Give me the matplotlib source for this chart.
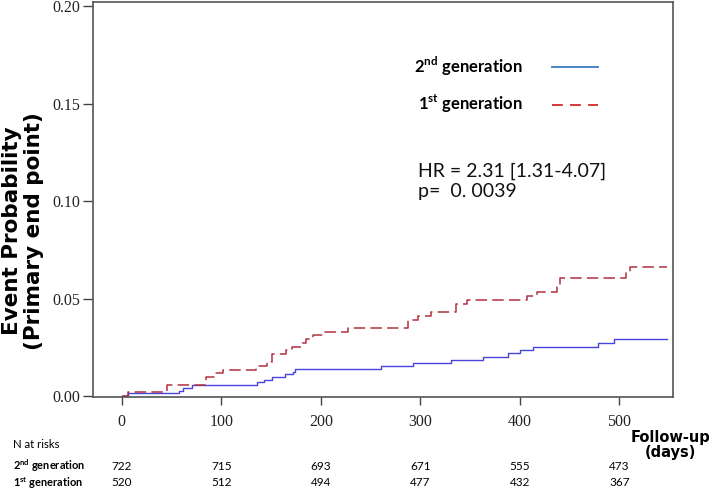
import matplotlib
matplotlib.use("Agg")
import matplotlib.pyplot as plt
from matplotlib.lines import Line2D
from matplotlib.transforms import blended_transform_factory

plt.rcParams["mathtext.fontset"] = "custom"
plt.rcParams["mathtext.rm"] = "Lato"
plt.rcParams["mathtext.bf"] = "Lato:bold"

# ---------------- data ----------------
gen2_days = [0, 6, 57, 61, 71, 136, 143, 151, 164, 172, 174, 260, 293, 331,
             363, 388, 400, 413, 479, 495, 548]
gen2_prob = [0, 0.0014, 0.0027, 0.0042, 0.0056, 0.0070, 0.0084, 0.0098, 0.0111,
             0.0125, 0.0140, 0.0154, 0.0168, 0.0185, 0.0202, 0.0219, 0.0236,
             0.0253, 0.0273, 0.0292, 0.0292]

gen1_days = [0, 6, 45, 85, 93, 102, 135, 146, 151, 165, 171, 180, 185, 192,
             203, 227, 288, 298, 311, 336, 347, 407, 417, 437, 440, 507, 511, 548]
gen1_prob = [0, 0.0019, 0.0058, 0.0097, 0.0116, 0.0135, 0.0155, 0.0173, 0.0213,
             0.0236, 0.0253, 0.0273, 0.0291, 0.0311, 0.0328, 0.0350, 0.0390,
             0.0410, 0.0432, 0.0470, 0.0491, 0.0514, 0.0535, 0.0561, 0.0604,
             0.0634, 0.0660, 0.0660]

risk_days = [0, 100, 200, 300, 400, 500]
risk_gen2 = [722, 715, 693, 671, 555, 473]
risk_gen1 = [520, 512, 494, 477, 432, 367]

x_ticks = [0, 100, 200, 300, 400, 500]
y_ticks = [0.00, 0.05, 0.10, 0.15, 0.20]

series_labels = [r"2$^{\mathbf{nd}}$ generation", r"1$^{\mathbf{st}}$ generation"]
hr_line = "HR = 2.31 [1.31-4.07]"
p_line = "p=  0. 0039"

# ---------------- figure ----------------
W, H = 709, 492
fig = plt.figure(figsize=(W / 100, H / 100), dpi=100)
ax = fig.add_axes([93 / W, 1 - 397 / H, (673 - 93) / W, (397 - 2) / H])

c_blue = "#4646dc"
c_red = "#b3303e"

ax.step(gen2_days, gen2_prob, where="post", color=c_blue, lw=1.0)
ax.step(gen1_days, gen1_prob, where="post", color=c_red, lw=1.1,
        dashes=(7.5, 3.4))

ax.set_xlim(-29, 554)
ax.set_ylim(-0.0005, 0.2021)

ax.set_xticks(x_ticks)
ax.set_yticks(y_ticks)
ax.set_yticklabels([f"{v:.2f}" for v in y_ticks])

serif = "Liberation Serif"
for lab in ax.get_xticklabels() + ax.get_yticklabels():
    lab.set_fontfamily(serif)
    lab.set_fontsize(11.5)
    lab.set_color("#222222")

ax.tick_params(axis="y", length=7.5, width=1.0, pad=1.5, colors="#444444",
               labelcolor="#222222")
ax.tick_params(axis="x", length=6, width=1.0, pad=6, colors="#444444",
               labelcolor="#222222")
for s in ax.spines.values():
    s.set_color("#555555")
    s.set_linewidth(1.2)

ax.set_ylabel("Event Probability\n(Primary end point)", fontsize=15.5,
              fontweight="bold", family="DejaVu Sans", labelpad=0,
              linespacing=1.08)
ax.yaxis.set_label_coords(-0.085, 0.42)

# legend
handles = [Line2D([], [], color="#3c7cc6", lw=1.3),
           Line2D([], [], color="#d22a2a", lw=1.3, dashes=(6.0, 4.0))]
leg = ax.legend(handles, series_labels, loc="upper left",
                bbox_to_anchor=(399 / W, 1 - 40 / H),
                bbox_transform=fig.transFigure, frameon=False,
                markerfirst=False, handlelength=2.8, handletextpad=1.75,
                labelspacing=0.9,
                prop={"family": "Lato", "weight": "bold", "size": 12})

# HR annotation
fig.text(418 / W, 1 - 171 / H, hr_line, fontsize=14, family="Lato",
         va="center", ha="left", color="#111111")
fig.text(418 / W, 1 - 191 / H, p_line, fontsize=14, family="Lato",
         va="center", ha="left", color="#111111")

# risk table
tr = blended_transform_factory(ax.transData, fig.transFigure)
fig.text(13 / W, 1 - 444 / H, "N at risks", fontsize=8.2, family="Lato",
         va="center", ha="left")
fig.text(13 / W, 1 - 466 / H, series_labels[0], fontsize=7.9,
         family="Lato", weight="bold", va="center", ha="left")
fig.text(13 / W, 1 - 483 / H, series_labels[1], fontsize=7.9,
         family="Lato", weight="bold", va="center", ha="left")
for d, n2, n1 in zip(risk_days, risk_gen2, risk_gen1):
    ax.text(d, 1 - 466 / H, str(n2), transform=tr, fontsize=8.5,
            family="Lato", ha="center", va="center", clip_on=False)
    ax.text(d, 1 - 483 / H, str(n1), transform=tr, fontsize=8.5,
            family="Lato", ha="center", va="center", clip_on=False)

fig.text(670 / W, 1 - 445 / H, "Follow-up\n(days)", fontsize=10.5,
         family="DejaVu Sans", weight="bold", ha="center", va="center",
         linespacing=0.95)

fig.savefig("out.png", dpi=100)
